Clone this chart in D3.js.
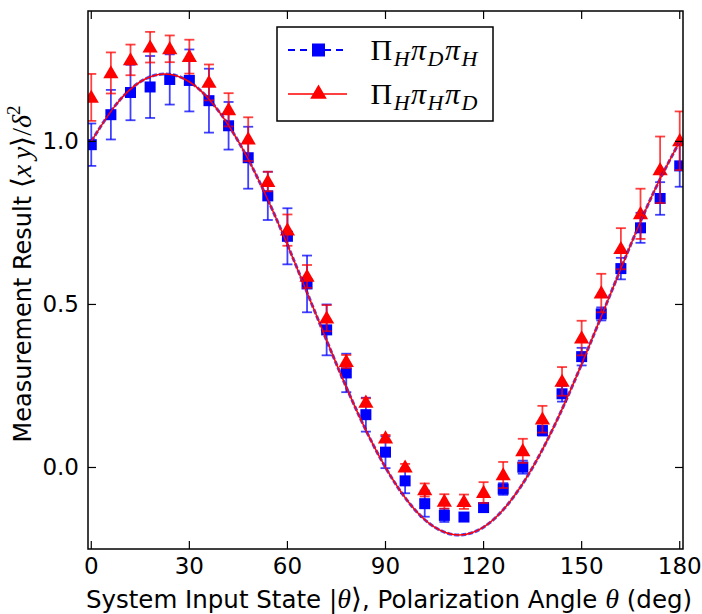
<!DOCTYPE html>
<html>
<head>
<meta charset="utf-8">
<script src="https://cdn.jsdelivr.net/npm/d3@7"></script>
<style>
  body { margin: 0; background: #fff; }
  svg text { font-family: 'DejaVu Sans', sans-serif; }
</style>
</head>
<body>
<div id="graph"></div>
<script>
// input angles (deg)
const angles = [0, 6, 12, 18, 24, 30, 36, 42, 48, 54, 60, 66, 72, 78, 84, 90,
	96, 102, 108, 114, 120, 126, 132, 138, 144, 150, 156, 162, 168, 174, 180];

// Pi_H pi_D pi_H  (blue squares)
const hdh = [0.99, 1.082, 1.15, 1.167, 1.19, 1.187, 1.125, 1.048, 0.95, 0.833, 0.709, 0.563,
	0.422, 0.29, 0.162, 0.047, -0.041, -0.111, -0.147, -0.152, -0.123, -0.066, 0.001, 0.113,
	0.226, 0.34, 0.471, 0.61, 0.735, 0.825, 0.925];
const hdhErr = [0.065, 0.076, 0.085, 0.095, 0.077, 0.095, 0.098, 0.073, 0.095, 0.074, 0.086, 0.087,
	0.078, 0.059, 0.052, 0.049, 0.038, 0.04, 0.02, 0.012, 0.012, 0.018, 0.02, 0.015,
	0.024, 0.027, 0.02, 0.033, 0.046, 0.05, 0.064];

// Pi_H pi_H pi_D  (red triangles)
const hhd = [1.135, 1.21, 1.25, 1.289, 1.284, 1.26, 1.181, 1.097, 1.007, 0.877, 0.728, 0.586,
	0.458, 0.325, 0.2, 0.09, 0.001, -0.069, -0.104, -0.105, -0.077, -0.023, 0.051, 0.148,
	0.264, 0.397, 0.535, 0.671, 0.778, 0.913, 1.002];
const hhdErr = [0.072, 0.063, 0.047, 0.047, 0.041, 0.052, 0.055, 0.051, 0.067, 0.03, 0.048, 0.035,
	0.04, 0.02, 0.012, 0.01, 0.01, 0.02, 0.022, 0.022, 0.032, 0.04, 0.037, 0.041,
	0.044, 0.053, 0.059, 0.063, 0.077, 0.102, 0.09];

// theory curve, every 7.5 deg
const curveTheta = [0, 7.5, 15, 22.5, 30, 37.5, 45, 52.5, 60, 67.5, 75, 82.5, 90,
	97.5, 105, 112.5, 120, 127.5, 135, 142.5, 150, 157.5, 165, 172.5, 180];
const curveVals = [1.0, 1.112, 1.183, 1.207, 1.183, 1.112, 1.0, 0.854, 0.683, 0.5, 0.317, 0.146, 0.0,
	-0.112, -0.183, -0.207, -0.183, -0.112, 0.0, 0.146, 0.317, 0.5, 0.683, 0.854, 1.0];

const xTicks = [0, 30, 60, 90, 120, 150, 180];
const yTicks = [0.0, 0.5, 1.0];

const width = 702, height = 614;
const padL = 88, padR = 683, padT = 11, padB = 549;

const svg = d3.select('#graph')
	.append('svg')
	.attr('width', width)
	.attr('height', height);

const xScale = d3.scaleLinear().domain([-1, 181]).range([padL, padR]);
const yScale = d3.scaleLinear().domain([-0.25, 1.4]).range([padB, padT]);

const blue = '#0000ff', red = '#ff0000';

svg.append('clipPath').attr('id', 'clip')
	.append('rect')
	.attr('x', padL).attr('y', padT)
	.attr('width', padR - padL).attr('height', padB - padT);

const plot = svg.append('g').attr('clip-path', 'url(#clip)');

function drawErrors(vals, errs, color) {
	const g = plot.append('g')
		.attr('stroke', color)
		.attr('stroke-width', 1.8)
		.attr('stroke-opacity', 0.75);
	const pts = angles.map((a, i) => ({ a, v: vals[i], e: errs[i] }));
	g.selectAll(null)
		.data(pts).enter().append('line')
		.attr('x1', d => xScale(d.a)).attr('x2', d => xScale(d.a))
		.attr('y1', d => yScale(d.v - d.e)).attr('y2', d => yScale(d.v + d.e));
	[-1, 1].forEach(s => {
		g.selectAll(null)
			.data(pts).enter().append('line')
			.attr('x1', d => xScale(d.a) - 5).attr('x2', d => xScale(d.a) + 5)
			.attr('y1', d => yScale(d.v + s * d.e)).attr('y2', d => yScale(d.v + s * d.e));
	});
}

const tri = d3.symbol().type(d3.symbolTriangle).size(100);

// blue series
drawErrors(hdh, hdhErr, blue);
plot.append('g').selectAll('rect')
	.data(angles).enter().append('rect')
	.attr('x', d => xScale(d) - 5.5)
	.attr('y', (d, i) => yScale(hdh[i]) - 5.5)
	.attr('width', 11).attr('height', 11)
	.attr('fill', blue);

// red series
drawErrors(hhd, hhdErr, red);
plot.append('g').selectAll('path')
	.data(angles).enter().append('path')
	.attr('d', tri)
	.attr('transform', (d, i) => `translate(${xScale(d)},${yScale(hhd[i]) + 1})`)
	.attr('fill', red);

// fit curves
const line = d3.line()
	.x(d => xScale(d[0]))
	.y(d => yScale(d[1]))
	.curve(d3.curveNatural);
const curvePts = curveTheta.map((t, i) => [t, curveVals[i]]);

plot.append('path')
	.datum(curvePts)
	.attr('d', line)
	.attr('fill', 'none')
	.attr('stroke', blue)
	.attr('stroke-opacity', 0.7)
	.attr('stroke-width', 3)
	.attr('stroke-dasharray', '5,2');

plot.append('path')
	.datum(curvePts)
	.attr('d', line)
	.attr('fill', 'none')
	.attr('stroke', red)
	.attr('stroke-width', 1.5);

// axes frame and ticks (inside, on all four sides)
const tickLen = 8;
const axes = svg.append('g').attr('stroke', '#000');

axes.append('rect')
	.attr('x', padL).attr('y', padT)
	.attr('width', padR - padL).attr('height', padB - padT)
	.attr('fill', 'none')
	.attr('stroke-width', 1.5);

xTicks.forEach(t => {
	const x = xScale(t);
	axes.append('line').attr('x1', x).attr('x2', x).attr('y1', padB).attr('y2', padB - tickLen).attr('stroke-width', 1.2);
	axes.append('line').attr('x1', x).attr('x2', x).attr('y1', padT).attr('y2', padT + tickLen).attr('stroke-width', 1.2);
});
yTicks.forEach(t => {
	const y = yScale(t);
	axes.append('line').attr('x1', padL).attr('x2', padL + tickLen).attr('y1', y).attr('y2', y).attr('stroke-width', 1.2);
	axes.append('line').attr('x1', padR).attr('x2', padR - tickLen).attr('y1', y).attr('y2', y).attr('stroke-width', 1.2);
});

svg.append('g').selectAll('text')
	.data(xTicks).enter().append('text')
	.attr('x', d => xScale(d))
	.attr('y', 574)
	.attr('text-anchor', 'middle')
	.style('font-size', '23px')
	.text(d => d);

svg.append('g').selectAll('text')
	.data(yTicks).enter().append('text')
	.attr('x', 79)
	.attr('y', d => yScale(d) + 8)
	.attr('text-anchor', 'end')
	.style('font-size', '23px')
	.text(d => d.toFixed(1));

// axis labels
const math = "'Liberation Serif', serif";

const xl = svg.append('text')
	.attr('x', 389)
	.attr('y', 608)
	.attr('text-anchor', 'middle')
	.style('font-size', '24.5px');
xl.append('tspan').text('System Input State |');
xl.append('tspan').style('font-family', math).style('font-style', 'italic').style('font-size', '28px').text('θ');
xl.append('tspan').style('font-family', math).style('font-size', '28px').text('⟩');
xl.append('tspan').text(', Polarization Angle ');
xl.append('tspan').style('font-family', math).style('font-style', 'italic').style('font-size', '28px').text('θ');
xl.append('tspan').text(' (deg)');

const yl = svg.append('text')
	.attr('transform', `translate(31, 274) rotate(-90)`)
	.attr('text-anchor', 'middle')
	.style('font-size', '24px');
yl.append('tspan').text('Measurement Result ');
yl.append('tspan').style('font-family', math).style('font-size', '28px').text('⟨');
yl.append('tspan').style('font-family', math).style('font-style', 'italic').style('font-size', '28px').text('x\u2009y');
yl.append('tspan').style('font-family', math).style('font-size', '28px').text('⟩/');
yl.append('tspan').style('font-family', math).style('font-style', 'italic').style('font-size', '28px').text('δ');
yl.append('tspan').style('font-family', math).style('font-size', '19px').attr('dy', -11).text('2');

// legend
const legendItems = [
	{ color: blue, marker: 'square', dash: '7,5', width: 2, parts: ['Π', 'H', 'π', 'D', 'π', 'H'] },
	{ color: red, marker: 'triangle', dash: null, width: 1.5, parts: ['Π', 'H', 'π', 'H', 'π', 'D'] }
];

const lg = svg.append('g');
lg.append('rect')
	.attr('x', 277).attr('y', 27)
	.attr('width', 216).attr('height', 94)
	.attr('fill', '#fff')
	.attr('stroke', '#000')
	.attr('stroke-width', 1.5);

legendItems.forEach((it, i) => {
	const cy = 50 + i * 44;
	lg.append('line')
		.attr('x1', 288).attr('x2', 347)
		.attr('y1', cy).attr('y2', cy)
		.attr('stroke', it.color)
		.attr('stroke-width', it.width)
		.attr('stroke-dasharray', it.dash);
	if (it.marker === 'square')
		lg.append('rect').attr('x', 312).attr('y', cy - 6.5).attr('width', 13).attr('height', 13).attr('fill', it.color);
	else
		lg.append('path').attr('d', d3.symbol().type(d3.symbolTriangle).size(120)).attr('transform', `translate(318.5,${cy})`).attr('fill', it.color);

	const t = lg.append('text')
		.attr('x', 369)
		.attr('y', cy + 10)
		.style('font-family', math)
		.style('font-size', '30px');
	it.parts.forEach((p, k) => {
		const sub = k % 2 === 1;
		t.append('tspan')
			.attr('dy', sub ? 6 : (k === 0 ? 0 : -6))
			.attr('dx', 1.5)
			.style('font-style', sub || p === 'π' ? 'italic' : 'normal')
			.style('font-size', sub ? '22px' : '30px')
			.text(p);
	});
});
</script>
</body>
</html>
